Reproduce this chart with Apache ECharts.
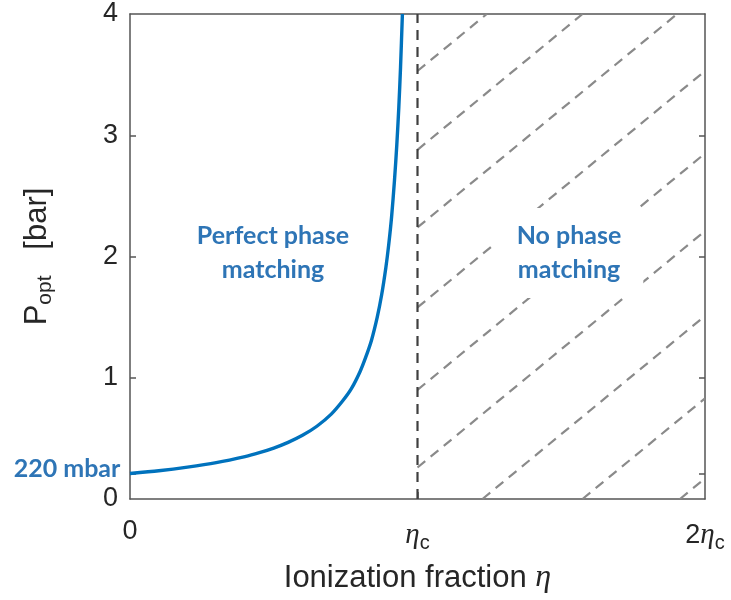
<!DOCTYPE html>
<html>
<head>
<meta charset="utf-8">
<script src="https://cdn.jsdelivr.net/npm/echarts@6/dist/echarts.min.js"></script>
<style>html,body{margin:0;padding:0;background:#fff}#c{width:731px;height:600px}</style>
</head>
<body>
<div id="c"></div>
<script>
// Curve: ionization fraction (in units of eta_c) vs optimum pressure [bar]
const etaValues = [0, 0.1, 0.2, 0.3, 0.4, 0.45, 0.5, 0.55, 0.6, 0.65, 0.7, 0.74, 0.77, 0.8, 0.82, 0.84, 0.86, 0.875, 0.89, 0.9, 0.91, 0.92, 0.928, 0.935, 0.941, 0.9475];
const pOptValues = [0.21, 0.233, 0.263, 0.30, 0.35, 0.382, 0.42, 0.467, 0.525, 0.60, 0.70, 0.81, 0.91, 1.05, 1.17, 1.31, 1.50, 1.68, 1.91, 2.10, 2.33, 2.63, 2.92, 3.23, 3.56, 4.0];
// critical ionization fraction line
const etaCritical = 1;
const xTicks = [0, 1, 2];
const xTickLabels = ['0', '{e|η}{c|c}', '2{e|η}{c|c}'];
const yTicks = [0.21, 1, 2, 3];
// hatch lines in the "no phase matching" region
const hatchStartX = [1, 1, 1, 1, 1, 1, 1.226, 1.574, 1.913];
const hatchStartY = [3.53, 2.88, 2.24, 1.58, 0.90, 0.26, 0, 0, 0];
const hatchEndX = [1.241, 1.574, 1.903, 2, 2, 2, 2, 2, 2];
const hatchEndY = [4, 4, 4, 3.53, 2.85, 2.21, 1.51, 0.83, 0.17];
const leftText = 'Perfect phase\nmatching';
const rightText = 'No phase\nmatching';
const baseText = '220 mbar';

const curve = etaValues.map((x, i) => [x, pOptValues[i]]);
const hatchSeries = hatchStartX.map((x, i) => ({
  type: 'line', data: [[x, hatchStartY[i]], [hatchEndX[i], hatchEndY[i]]],
  symbol: 'none', silent: true, z: 1,
  lineStyle: { color: '#8a8a8a', width: 2.2, type: [10, 7] }
}));

const chart = echarts.init(document.getElementById('c'), null, { renderer: 'canvas' });
const textColor = '#262626';
const lineCol = '#555';
const labelFont = 'Liberation Sans';
const blue = '#2E75B6';

chart.setOption({
  animation: false,
  backgroundColor: '#fff',
  grid: { left: 130, top: 14, right: 26, bottom: 101 },
  xAxis: [{
    type: 'value', min: 0, max: 2, interval: 1, position: 'bottom',
    axisLine: { show: true, onZero: false, lineStyle: { color: lineCol, width: 1.5 } },
    axisTick: { show: true, inside: true, length: 7, customValues: [1], lineStyle: { color: lineCol, width: 1.5 } },
    splitLine: { show: false },
    axisLabel: {
      margin: 19, color: textColor, fontFamily: labelFont, fontSize: 27,
      formatter: v => xTickLabels[xTicks.indexOf(v)],
      rich: {
        e: { fontFamily: 'Liberation Serif', fontStyle: 'italic', fontSize: 29, color: textColor, verticalAlign: 'middle' },
        c: { fontFamily: labelFont, fontSize: 20, color: textColor, verticalAlign: 'bottom', padding: [15, 0, 0, 0] }
      }
    },
    name: 'Ionization fraction {e|η}', nameLocation: 'middle', nameGap: 63,
    nameTextStyle: {
      color: textColor, fontFamily: labelFont, fontSize: 31,
      rich: { e: { fontFamily: 'Liberation Serif', fontStyle: 'italic', fontSize: 32, color: textColor } }
    }
  }, {
    type: 'value', min: 0, max: 2, interval: 1, position: 'top',
    axisLine: { show: true, onZero: false, lineStyle: { color: lineCol, width: 1.5 } },
    axisTick: { show: false }, axisLabel: { show: false }, splitLine: { show: false }
  }],
  yAxis: [{
    type: 'value', min: 0, max: 4, interval: 1, position: 'left',
    axisLine: { show: true, onZero: false, lineStyle: { color: lineCol, width: 1.5 } },
    axisTick: { show: true, inside: true, length: 6, customValues: yTicks, lineStyle: { color: lineCol, width: 1.5 } },
    splitLine: { show: false },
    axisLabel: { margin: 12, color: textColor, fontFamily: labelFont, fontSize: 27 },
    name: '{p|P}{s|opt}{p|   [bar]}', nameLocation: 'middle', nameGap: 74, nameRotate: 90,
    nameTextStyle: {
      color: textColor, fontFamily: labelFont, fontSize: 31,
      rich: {
        p: { fontFamily: labelFont, fontSize: 31, color: textColor, verticalAlign: 'middle' },
        s: { fontFamily: labelFont, fontSize: 21, color: textColor, verticalAlign: 'bottom', padding: [17, 0, 0, 0] }
      }
    }
  }, {
    type: 'value', min: 0, max: 4, interval: 1, position: 'right',
    axisLine: { show: true, onZero: false, lineStyle: { color: lineCol, width: 1.5 } },
    axisTick: { show: true, inside: true, length: 6, customValues: yTicks, lineStyle: { color: lineCol, width: 1.5 } },
    splitLine: { show: false }, axisLabel: { show: false }
  }],
  series: [
    ...hatchSeries,
    {
      type: 'line', data: [[etaCritical, 0], [etaCritical, 4]], symbol: 'none', silent: true, z: 2,
      lineStyle: { color: '#3f3f3f', width: 2.2, type: [10, 7] }
    },
    {
      type: 'line', data: curve, symbol: 'none', smooth: 0.25, z: 3,
      lineStyle: { color: '#0072BD', width: 3.4 }
    }
  ],
  graphic: [
    {
      type: 'text', z: 100, x: 273, y: 253,
      style: {
        text: leftText, align: 'center', verticalAlign: 'middle',
        font: 'bold 25px Lato', fill: blue, lineHeight: 34
      }
    },
    {
      type: 'text', z: 100, x: 569, y: 253,
      style: {
        text: rightText, align: 'center', verticalAlign: 'middle',
        font: 'bold 25px Lato', fill: blue, lineHeight: 34,
        backgroundColor: '#fff', padding: [12, 22, 10, 22]
      }
    },
    {
      type: 'text', z: 100, x: 67, y: 469,
      style: {
        text: baseText, align: 'center', verticalAlign: 'middle',
        font: 'bold 25px Lato', fill: blue
      }
    }
  ]
});
</script>
</body>
</html>
